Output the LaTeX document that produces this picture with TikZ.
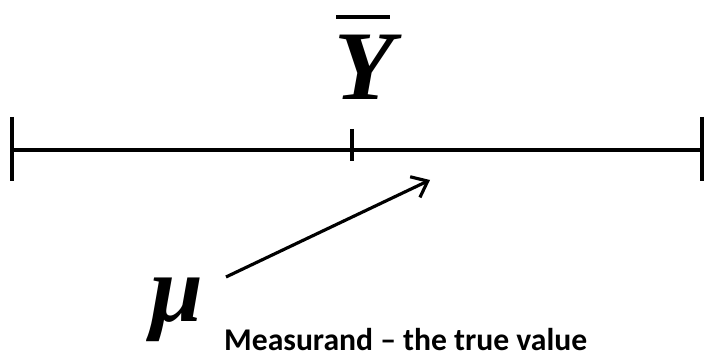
\documentclass[tikz,border=0pt]{standalone}
\usepackage{fontspec}
\setmainfont{Liberation Serif}
\newfontfamily\labelfont{Carlito}
\usetikzlibrary{arrows.meta, positioning, calc}

\begin{document}
\begin{tikzpicture}[
    axisline/.style={line width=2.3pt},
    symbol/.style={font=\fontsize{56}{60}\selectfont\bfseries\itshape, inner sep=0pt},
    pointer/.style={line width=1.8pt, -{Straight Barb[length=8pt, width=13pt, line width=1.8pt]}}]
  \useasboundingbox (0,0) rectangle (14.1,7.14);
  % number line with its ticks
  \coordinate (lo) at (0.24,4.14);
  \coordinate (hi) at (14.04,4.14);
  \coordinate (mid) at (7.04,4.14);
  \draw[axisline] (lo) -- (hi);
  \draw[axisline] ($(lo)+(0,0.66)$) -- ($(lo)+(0,-0.62)$);
  \draw[axisline] ($(hi)+(0,0.66)$) -- ($(hi)+(0,-0.62)$);
  \draw[axisline] ($(mid)+(0,0.42)$) -- ($(mid)+(0,-0.22)$);
  % sample mean
  \node[symbol] (ybar) at (7.3,5.8) {Y};
  \draw[line width=2.2pt] (6.72,6.8) -- (7.8,6.8);
  % true value
  \node[symbol, font=\fontsize{54}{58}\selectfont\bfseries\itshape] (mu) at (3.54,0.95) {μ};
  \node[anchor=base west, font=\labelfont\bfseries\fontsize{18}{22}\selectfont] (meas) at (4.36,0.13) {Measurand – the true value};
  \coordinate (tail) at (4.52,1.6);
  \coordinate (tip) at (8.6,3.54);
  \draw[pointer] (tail) -- (tip);
\end{tikzpicture}
\end{document}
